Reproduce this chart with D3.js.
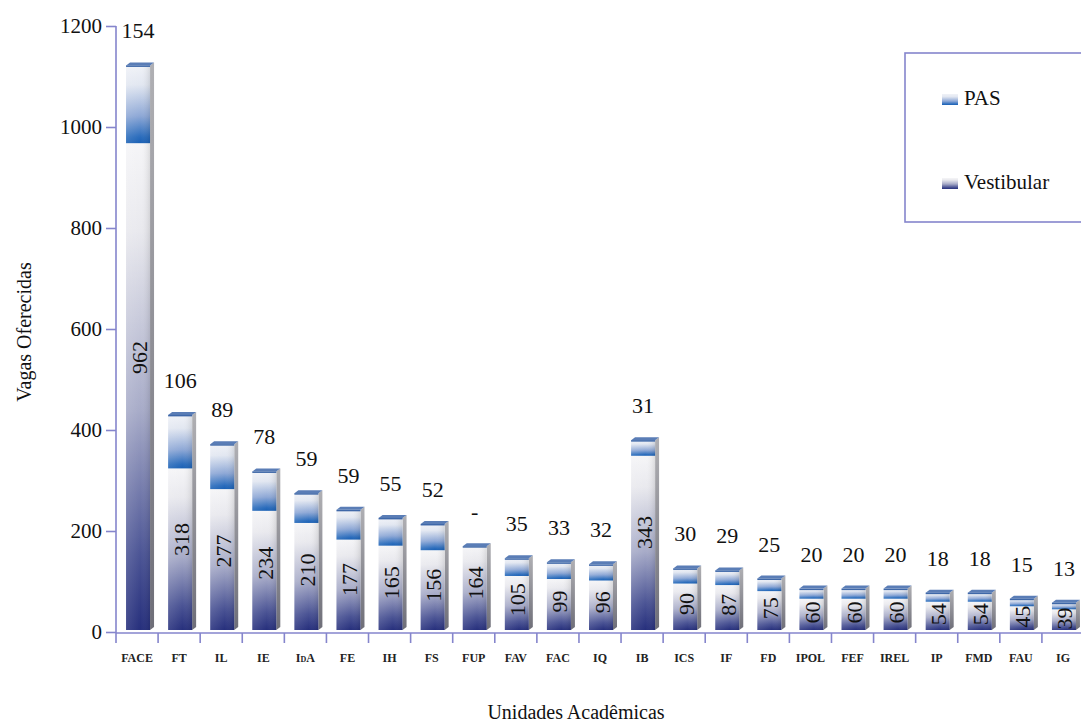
<!DOCTYPE html>
<html><head><meta charset="utf-8">
<script src="https://cdn.jsdelivr.net/npm/d3@7"></script>
</head>
<body style="margin:0"><svg id="c" width="1081" height="722"></svg>
<script>
const categories = ["FACE","FT","IL","IE","IdA","FE","IH","FS","FUP","FAV","FAC","IQ","IB","ICS","IF","FD","IPOL","FEF","IREL","IP","FMD","FAU","IG"];
const vestibular = [962,318,277,234,210,177,165,156,164,105,99,96,343,90,87,75,60,60,60,54,54,45,39];
const pas = [154,106,89,78,59,59,55,52,null,35,33,32,31,30,29,25,20,20,20,18,18,15,13];
const yTicks = [0,200,400,600,800,1000,1200];
const seriesNames = ["PAS","Vestibular"];

const FONT = "Liberation Serif";
const svg = d3.select("#c");
const axisColor = "#8585cc";
const x = d3.scaleBand().domain(categories).range([116,1084]).padding(0);
const y = d3.scaleLinear().domain([0,1200]).range([632,26]);

const defs = svg.append("defs");
function grad(id, stops){
  const g = defs.append("linearGradient").attr("id",id).attr("x1",0).attr("y1",0).attr("x2",0).attr("y2",1);
  stops.forEach(s=>g.append("stop").attr("offset",s[0]).attr("stop-color",s[1]));
}
grad("gVest",[["0%","#f5f5f7"],["18%","#e9e9ee"],["55%","#a7abc8"],["85%","#4a5394"],["100%","#262f7c"]]);
grad("gPas",[["0%","#f0f2f7"],["25%","#e2e7f1"],["65%","#8ea8d6"],["92%","#2a6cbc"],["100%","#1a60b4"]]);
grad("gSide",[["0%","#b0b0b4"],["100%","#6e6e78"]]);
const hg = defs.append("linearGradient").attr("id","gShade").attr("x1",0).attr("y1",0).attr("x2",1).attr("y2",0);
hg.append("stop").attr("offset","0%").attr("stop-color","#ffffff").attr("stop-opacity",0.12);
hg.append("stop").attr("offset","60%").attr("stop-color","#ffffff").attr("stop-opacity",0);
hg.append("stop").attr("offset","100%").attr("stop-color","#000000").attr("stop-opacity",0.10);

// axes
const yAxis = d3.axisLeft(y).tickValues(yTicks).tickFormat(d3.format("d")).tickSize(10).tickPadding(4);
const gy = svg.append("g").attr("transform","translate(116,0)").call(yAxis).attr("font-family",FONT).attr("font-size",21);
gy.select(".domain").attr("stroke",axisColor).attr("stroke-width",1.6).attr("d","M0,26V633");
gy.selectAll(".tick line").attr("stroke",axisColor).attr("stroke-width",1.6);
gy.selectAll(".tick text").attr("font-family",FONT).attr("font-size",21).attr("fill","#111");

const xAxis = d3.axisBottom(x).tickSize(0).tickPadding(18);
const gx = svg.append("g").attr("transform","translate(0,633)").call(xAxis).attr("font-family",FONT).attr("font-size",12);
gx.select(".domain").attr("stroke",axisColor).attr("stroke-width",1.6).attr("d","M116,0H1084");
gx.selectAll(".tick text").attr("font-family",FONT).attr("font-size",12).attr("fill","#222").attr("font-weight","bold")
  .attr("font-variant","small-caps").attr("dy","0.75em").attr("y",20);
gx.selectAll("line.sep").data(categories).enter().append("line").attr("class","sep")
  .attr("x1",d=>x(d)).attr("x2",d=>x(d)).attr("y1",0).attr("y2",10)
  .attr("stroke",axisColor).attr("stroke-width",1.6);

// bars
const W = 24, D = 4;
const bars = svg.append("g");
categories.forEach((c,i)=>{
  const v = vestibular[i], p = pas[i] || 0;
  const x0 = x(c) + x.bandwidth()/2 - W/2 + 1;
  const yb = y(0) - 2;
  const yv = y(v) - 3;
  const yt = y(v+p) - 3;
  const g = bars.append("g");
  g.append("path").attr("d",`M${x0+W},${yt}L${x0+W+D},${yt-D+1}L${x0+W+D},${yb-D+1}L${x0+W},${yb}Z`).attr("fill","url(#gSide)");
  g.append("rect").attr("x",x0).attr("y",yv).attr("width",W).attr("height",yb-yv).attr("fill","url(#gVest)");
  if(p>0){
    g.append("rect").attr("x",x0).attr("y",yt).attr("width",W).attr("height",yv-yt).attr("fill","url(#gPas)");
  }
  g.append("rect").attr("x",x0).attr("y",yt).attr("width",W).attr("height",yb-yt).attr("fill","url(#gShade)");
  g.append("path").attr("d",`M${x0},${yt}L${x0+D},${yt-D+1}L${x0+W+D},${yt-D+1}L${x0+W},${yt}Z`).attr("fill","#5a7db6");
  g.append("rect").attr("x",x0).attr("y",yt).attr("width",W).attr("height",1.5).attr("fill","#3f68a8");
  g.append("text").attr("x",x0+W/2).attr("y",yt-27).attr("text-anchor","middle").attr("font-family",FONT)
    .attr("font-size",22).attr("fill","#111").text(pas[i]==null ? "-" : pas[i]);
  const cy = yb - 0.56*(yb-yv);
  g.append("text").attr("transform",`translate(${x0+W/2+1},${cy}) rotate(-90)`).attr("font-family",FONT)
    .attr("text-anchor","middle").attr("dominant-baseline","central")
    .attr("font-size",22).attr("fill","#111").text(v);
});

// axis titles
svg.append("text").attr("transform","translate(24,332) rotate(-90)").attr("text-anchor","middle").attr("font-family",FONT)
  .attr("dominant-baseline","central").attr("font-size",20).attr("fill","#111").text("Vagas Oferecidas");
svg.append("text").attr("x",576).attr("y",719).attr("text-anchor","middle").attr("font-family",FONT)
  .attr("font-size",20).attr("fill","#111").text("Unidades Acadêmicas");

// legend
const lg = svg.append("g");
lg.append("rect").attr("x",905).attr("y",53).attr("width",190).attr("height",169)
  .attr("fill","#fff").attr("stroke",axisColor).attr("stroke-width",1.6);
const legItems = [{name:seriesNames[0],fill:"url(#gPas)",y:105},{name:seriesNames[1],fill:"url(#gVest)",y:189}];
legItems.forEach(d=>{
  lg.append("rect").attr("x",942).attr("y",d.y-11).attr("width",16).attr("height",11).attr("fill",d.fill);
  lg.append("text").attr("x",964).attr("y",d.y).attr("font-family",FONT).attr("font-size",21).attr("fill","#111").text(d.name);
});
</script></body></html>
